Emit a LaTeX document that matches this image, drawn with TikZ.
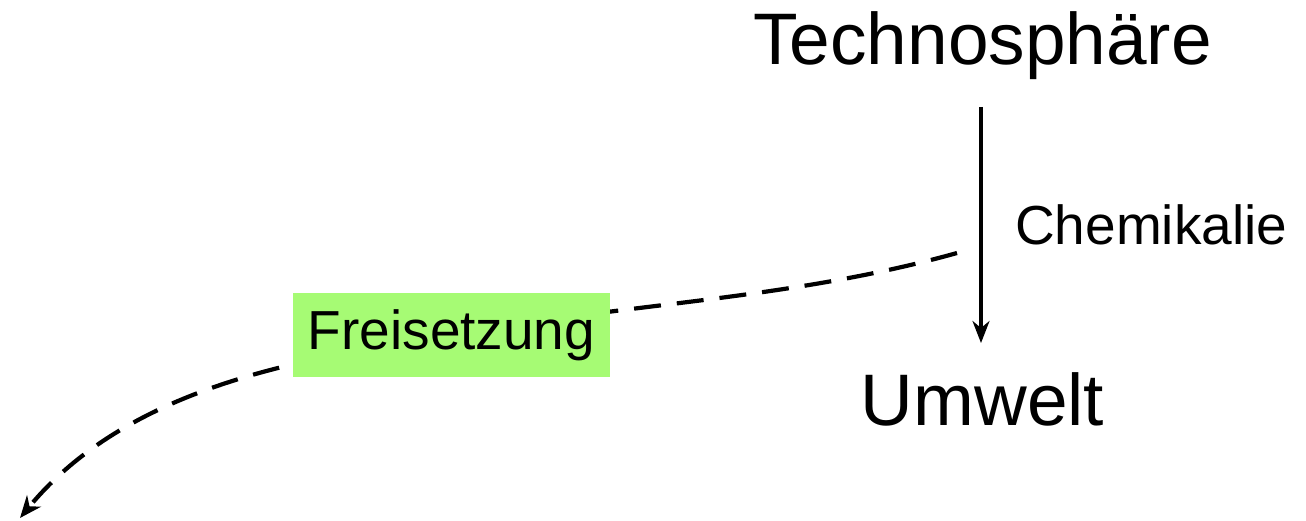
\documentclass[tikz,border=0pt]{standalone}
\usepackage{fontspec}
\setmainfont{Liberation Sans}
\usetikzlibrary{arrows.meta}
\definecolor{releasegreen}{RGB}{166,251,116}
\tikzset{
  bigtext/.style={inner sep=0pt, anchor=base, font=\fontsize{73}{88}\selectfont},
  smalltext/.style={inner sep=0pt, font=\fontsize{55}{66}\selectfont},
  flowarrow/.style={line width=3.2pt, -{Stealth[length=22pt, width=17pt, inset=7pt]}},
  releasearrow/.style={line width=4.2pt, dash pattern=on 27pt off 16pt,
    -{Stealth[length=22pt, width=18pt, inset=7pt]}},
  labelbox/.style={smalltext, fill=releasegreen, minimum width=317pt, minimum height=84pt}
}
\begin{document}
\begin{tikzpicture}[x=1pt,y=-1pt]
  \useasboundingbox (0,0) rectangle (1306,521);

  % spheres and the substance flowing between them
  \node[bigtext] (tech) at (982.5,65) {Technosphäre};
  \node[bigtext] (umwelt) at (982.5,425) {Umwelt};
  \node[smalltext, anchor=base west] (chem) at (1015,245) {Chemikalie};

  \coordinate (src) at (981,107);
  \coordinate (dst) at (981,343);
  \draw[flowarrow] (src) -- (dst);

  % release path, passing behind its label
  \coordinate (rel0) at (957,253);
  \coordinate (rel1) at (450,336);
  \coordinate (rel2) at (20,518);
  \draw[releasearrow] (rel0) .. controls (787,300.6) and (620,303.2) .. (rel1)
                             .. controls (330,355.2) and (135,378) .. (rel2);

  \node[labelbox] (frei) at (451.5,335) {Freisetzung};
\end{tikzpicture}
\end{document}
